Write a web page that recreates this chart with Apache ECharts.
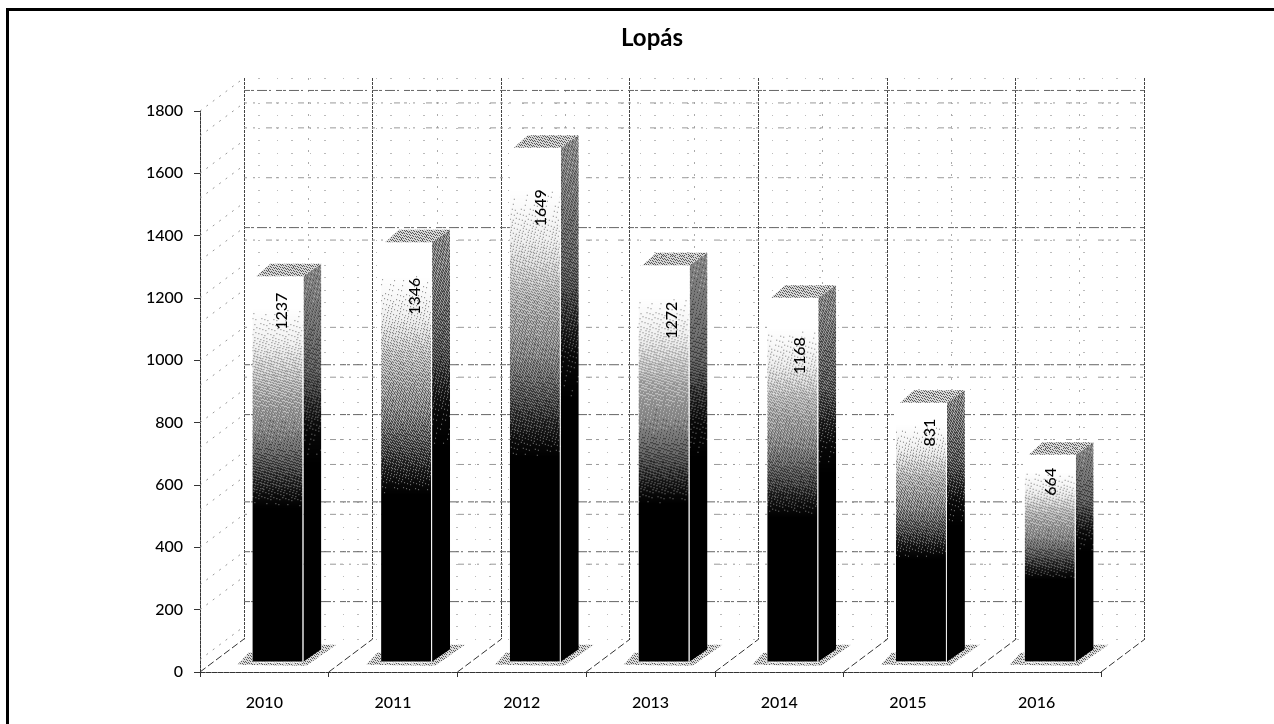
<!DOCTYPE html>
<html>
<head>
<meta charset="utf-8">
<style>html,body{margin:0;padding:0;background:#fff}#c{width:1274px;height:724px}</style>
<script src="https://cdn.jsdelivr.net/npm/echarts@6/dist/echarts.min.js"></script>
</head>
<body>
<div id="c"></div>
<script>
const years = ['2010','2011','2012','2013','2014','2015','2016'];
const values = [1237,1346,1649,1272,1168,831,664];
const labelDrops = [35,54,60,55,58,30,27];
const labelShifts = [4,8,6,7.5,7,8,1];
const strongLevels = [1760,1320,880,720,440,280,120];
const mediumLevels = [1720,1640,1480,1280,1000,840,640,560,400,240];
const wallLevels = [40,200,280,400,520,600,720,800,920,1000,1120,1200,1320,1400,1520,1600,1720,1800];

const font = 'Lato';
const depthX = 44, depthY = -33;
const frontStops = [[0,255],[0.08,255],[0.18,225],[0.28,175],[0.4,130],[0.5,70],[0.6,0],[1,0]];
const sideStops = [[0,135],[0.27,85],[0.42,15],[0.5,0],[1,0]];

function grayAt(stops,t){
  for(let i=1;i<stops.length;i++){
    if(t<=stops[i][0]){
      const a=stops[i-1],b=stops[i];
      return a[1]+(b[1]-a[1])*(t-a[0])/Math.max(b[0]-a[0],1e-6);
    }
  }
  return stops[stops.length-1][1];
}
function grain(x,y){
  const f=0.06711056*x+0.00583715*y;
  const g=52.9829189*(f-Math.floor(f));
  return g-Math.floor(g);
}
function stippleCanvas(w,h,stops){
  const cv=document.createElement('canvas');
  cv.width=Math.max(1,Math.ceil(w)); cv.height=Math.max(1,Math.ceil(h));
  const ctx=cv.getContext('2d');
  const im=ctx.createImageData(cv.width,cv.height);
  for(let y=0;y<cv.height;y++){
    for(let x=0;x<cv.width;x++){
      const g=grayAt(stops,y/cv.height);
      const bit=g>grain(x,y)*255?255:0;
      const v=Math.round(g*0.5+bit*0.5);
      const k=(y*cv.width+x)*4;
      im.data[k]=im.data[k+1]=im.data[k+2]=v; im.data[k+3]=255;
    }
  }
  ctx.putImageData(im,0,0);
  return cv;
}
const capFill = {image:stippleCanvas(64,64,[[0,175],[1,175]]),repeat:'repeat'};
const padFill = {image:stippleCanvas(64,64,[[0,185],[1,185]]),repeat:'repeat'};

function wallRender(params, api){
  const v = api.value(0);
  const p = api.coord([0, v]);
  const x = p[0]-api.size([1,0])[0]/2;
  return {type:'line', shape:{x1:x,y1:p[1],x2:x+depthX,y2:p[1]+depthY},
    style:{stroke:'#999',lineWidth:1,lineDash:[2,6]}, silent:true};
}
function floorRender(params, api){
  const c = api.coord([api.value(0),0]);
  const w = api.size([1,0])[0];
  const x = c[0]-w/2;
  const kids = [{type:'line',shape:{x1:x,y1:c[1],x2:x+depthX,y2:c[1]+depthY},
    style:{stroke:'#333',lineWidth:1,lineDash:[7,3]}}];
  if(params.dataIndex===years.length-1){
    kids.push({type:'line',shape:{x1:x+w,y1:c[1],x2:x+w+depthX,y2:c[1]+depthY},
      style:{stroke:'#333',lineWidth:1,lineDash:[7,3]}});
  }
  return {type:'group',children:kids,silent:true};
}
function levelRender(color,dash){
  return function(params, api){
    const a = api.coord([0,api.value(0)]);
    const b = api.coord([7,api.value(0)]);
    return {type:'line',shape:{x1:a[0],y1:a[1],x2:b[0],y2:b[1]},
      style:{stroke:color,lineWidth:1,lineDash:dash},silent:true};
  };
}
function barRender(params, api){
  const i = params.dataIndex;
  const top = api.coord([i, api.value(1)]);
  const base = api.coord([i, 0]);
  const w = api.size([1,0])[0]*0.396;
  const L = top[0]-w/2, R = top[0]+w/2, T = top[1], B = base[1];
  const dx = 18, dy = -12.5;
  const pad = {type:'polygon',shape:{points:[[L-15,B+3],[R+3,B+4],[R+33,B-17],[R+18,B-17],[R,B-1],[L,B-1],[L,B-9],[L-4,B-9]]},
    style:{fill:padFill}};
  const H = B-T;
  const front = {type:'polygon',x:L,y:T,shape:{points:[[0,0],[w,0],[w,H],[0,H]]},
    style:{fill:{image:stippleCanvas(w,H,frontStops),repeat:'no-repeat'}}};
  const edge = {type:'line',shape:{x1:R-0.5,y1:T,x2:R-0.5,y2:B},style:{stroke:'#fff',lineWidth:1}};
  const foot = {type:'line',shape:{x1:L,y1:B+0.5,x2:R,y2:B+0.5},style:{stroke:'#fff',lineWidth:1}};
  const side = {type:'polygon',x:R,y:T+dy,shape:{points:[[0,-dy],[dx,0],[dx,H],[0,H-dy]]},
    style:{fill:{image:stippleCanvas(dx,H-dy,sideStops),repeat:'no-repeat'}}};
  const cap = {type:'polygon',shape:{points:[[L+4,T],[R,T],[R+dx,T+dy],[L+dx,T+dy]]},
    style:{fill:capFill}};
  const label = {type:'text',x:top[0]+labelShifts[i],y:T+labelDrops[i],rotation:Math.PI/2,
    style:{text:String(api.value(1)),fontFamily:font,fontSize:16,fontWeight:500,fill:'#000',align:'center',verticalAlign:'middle'}};
  return {type:'group',children:[pad,side,front,edge,foot,cap,label],silent:true};
}

const chart = echarts.init(document.getElementById('c'),null,{renderer:'canvas'});
chart.setOption({
  animation:false,
  backgroundColor:'#fff',
  title:{text:'Lopás',left:647,top:21,textAlign:'center',
    textStyle:{fontFamily:font,fontSize:24,fontWeight:'bold',color:'#000'}},
  graphic:[
    {type:'line',shape:{x1:8,y1:9.5,x2:1274,y2:9.5},style:{stroke:'#000',lineWidth:3},z:10},
    {type:'line',shape:{x1:7.5,y1:8,x2:7.5,y2:724},style:{stroke:'#000',lineWidth:3},z:10}
  ],
  grid:[
    {left:200,top:111,width:901,height:561},
    {left:244,top:78,width:900,height:561},
    {left:213.5,top:100.7,width:901,height:561}
  ],
  xAxis:[
    {gridIndex:0,type:'category',data:years,boundaryGap:true,
      axisLine:{show:true,lineStyle:{color:'#333',width:1,type:[5,1]}},
      axisTick:{show:true,length:5,lineStyle:{color:'#333'},alignWithLabel:false},
      axisLabel:{fontFamily:font,fontSize:16,fontWeight:500,color:'#000',margin:23},splitLine:{show:false}},
    {gridIndex:1,type:'value',min:0,max:7,interval:1,
      axisLine:{show:false},axisTick:{show:false},axisLabel:{show:false},
      splitLine:{show:true,lineStyle:{color:'#444',width:1,type:[3,1]}},
      minorTick:{show:false,splitNumber:2},
      minorSplitLine:{show:true,lineStyle:{color:'#aaa',width:1,type:[2,10]}}},
    {gridIndex:2,type:'category',data:years,show:false}
  ],
  yAxis:[
    {gridIndex:0,type:'value',min:0,max:1800,interval:200,
      axisLine:{show:true,lineStyle:{color:'#333',width:1,type:[3,1]}},
      axisTick:{show:true,length:6,lineStyle:{color:'#333'}},
      axisLabel:{fontFamily:font,fontSize:16,fontWeight:500,color:'#000',margin:17,formatter:v=>String(v)},splitLine:{show:false}},
    {gridIndex:1,type:'value',min:0,max:1800,interval:40,
      axisLine:{show:false},axisTick:{show:false},axisLabel:{show:false},
      splitLine:{show:true,lineStyle:{color:'#bbb',width:1,type:[1,13,2,17]}}},
    {gridIndex:2,type:'value',min:0,max:1800,show:false}
  ],
  series:[
    {type:'custom',xAxisIndex:0,yAxisIndex:0,z:1,renderItem:wallRender,data:wallLevels.map(v=>[v]),encode:{y:0},clip:false},
    {type:'custom',xAxisIndex:0,yAxisIndex:0,z:1,renderItem:floorRender,data:years.map((y,i)=>[i,0]),encode:{x:0,y:1},clip:false},
    {type:'custom',xAxisIndex:1,yAxisIndex:1,z:2,renderItem:levelRender('#999',[3,6,2,11,6,4]),data:mediumLevels.map(v=>[v]),encode:{y:0}},
    {type:'custom',xAxisIndex:1,yAxisIndex:1,z:2,renderItem:levelRender('#666',[6,1,3,3,10,2,2,5]),data:strongLevels.map(v=>[v]),encode:{y:0}},
    {type:'custom',xAxisIndex:2,yAxisIndex:2,z:5,renderItem:barRender,data:years.map((y,i)=>[i,values[i]]),encode:{x:0,y:1},clip:false}
  ]
});
</script>
</body>
</html>
